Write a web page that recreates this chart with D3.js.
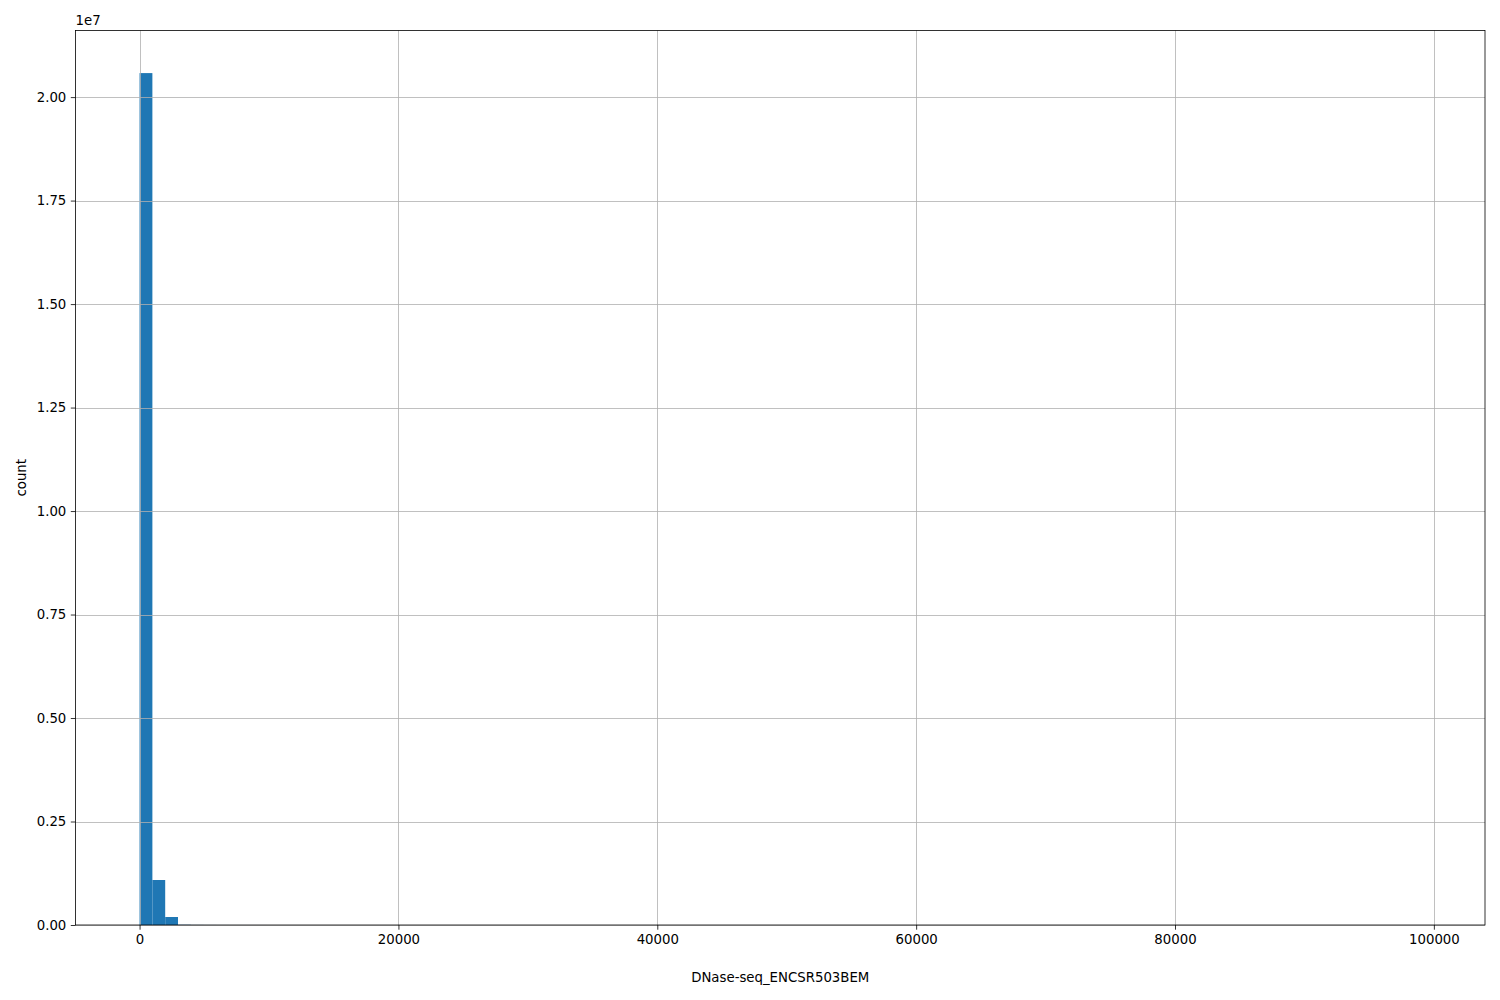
<!DOCTYPE html>
<html><head><meta charset="utf-8">
<script src="https://cdn.jsdelivr.net/npm/d3@7"></script>
<style>body{margin:0;background:#fff}svg{display:block}text{font-family:"DejaVu Sans",sans-serif;}</style>
</head><body>
<script>
// Histogram: 100 bins spanning 0..99000 (bin width 990)
const binStart = 0;
const binEnd = 99000;
const counts = [
 20580000, 1087000, 193000, 6000, 2500, 1200, 700, 400, 250, 160,
 110, 80, 50, 35, 25, 18, 12, 9, 7, 5,
 4, 3, 3, 2, 2, 2, 1, 1, 1, 1,
 1, 1, 0, 1, 0, 1, 0, 0, 1, 0,
 0, 0, 1, 0, 0, 0, 0, 1, 0, 0,
 0, 0, 0, 0, 0, 0, 0, 0, 0, 0,
 0, 0, 0, 0, 0, 0, 0, 0, 0, 0,
 0, 0, 0, 0, 0, 0, 0, 0, 0, 0,
 0, 0, 0, 0, 0, 0, 0, 0, 0, 0,
 0, 0, 0, 0, 0, 0, 0, 0, 0, 1
];
const xTicks = [0, 20000, 40000, 60000, 80000, 100000];
const yTicks = [0, 0.25e7, 0.5e7, 0.75e7, 1.0e7, 1.25e7, 1.5e7, 1.75e7, 2.0e7];
const xLabel = "DNase-seq_ENCSR503BEM";
const yLabel = "count";

const W = 1500, H = 1000;
const m = {left: 75.5, right: 1485, top: 30.5, bottom: 925};
const svg = d3.select("body").append("svg").attr("width", W).attr("height", H);

const binW = (binEnd - binStart) / counts.length;
const bins = counts.map((c, i) => ({x0: binStart + i * binW, x1: binStart + (i + 1) * binW, c}));
const span = binEnd - binStart;
const x = d3.scaleLinear().domain([binStart - 0.05 * span, binEnd + 0.05 * span]).range([m.left, m.right]);
const yMax = d3.max(counts) * 1.05;
const y = d3.scaleLinear().domain([0, yMax]).range([m.bottom, m.top]);

// bars
svg.append("g").selectAll("rect").data(bins.filter(b => b.c > 0)).join("rect")
  .attr("x", d => x(d.x0)).attr("width", d => x(d.x1) - x(d.x0))
  .attr("y", d => y(d.c)).attr("height", d => y(0) - y(d.c))
  .attr("fill", "#1f77b4");

// grid (above bars, as matplotlib)
const grid = svg.append("g").attr("stroke", "#b0b0b0").attr("stroke-width", 0.8);
xTicks.forEach(t => grid.append("line").attr("x1", Math.round(x(t)) + 0.5).attr("x2", Math.round(x(t)) + 0.5).attr("y1", m.top).attr("y2", m.bottom));
yTicks.forEach(t => grid.append("line").attr("y1", Math.round(y(t)) + 0.5).attr("y2", Math.round(y(t)) + 0.5).attr("x1", m.left).attr("x2", m.right));

// axes
const xAxis = d3.axisBottom(x).tickValues(xTicks).tickFormat(d3.format("d")).tickSizeOuter(0).tickSize(4.7).tickPadding(4.5);
const yAxis = d3.axisLeft(y).tickValues(yTicks).tickFormat(d => (d / 1e7).toFixed(2)).tickSizeOuter(0).tickSize(4.7).tickPadding(4.5);
const gx = svg.append("g").attr("transform", `translate(0,${m.bottom})`).call(xAxis);
const gy = svg.append("g").attr("transform", `translate(${m.left},0)`).call(yAxis);
[gx, gy].forEach(g => {
  g.select(".domain").remove();
  g.selectAll("text").attr("font-size", "13.3px").attr("fill", "#000").attr("font-family", "DejaVu Sans");
  g.selectAll("line").attr("stroke", "#000").attr("stroke-width", 0.8);
});

// frame
svg.append("rect").attr("x", m.left).attr("y", m.top).attr("width", m.right - m.left).attr("height", m.bottom - m.top)
  .attr("fill", "none").attr("stroke", "#000").attr("stroke-width", 0.8);

// labels
svg.append("text").attr("x", (m.left + m.right) / 2).attr("y", 982).attr("text-anchor", "middle")
  .attr("font-size", "13.3px").text(xLabel);
svg.append("text").attr("transform", `translate(26,${(m.top + m.bottom) / 2}) rotate(-90)`).attr("text-anchor", "middle")
  .attr("font-size", "13.3px").text(yLabel);
svg.append("text").attr("x", m.left).attr("y", 25).attr("font-size", "13.3px").text("1e7");
</script>
</body></html>
